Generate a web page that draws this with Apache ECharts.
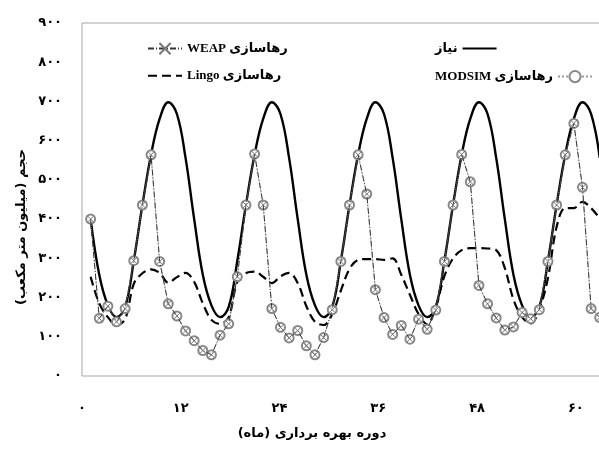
<!DOCTYPE html>
<html>
<head>
<meta charset="utf-8">
<script src="https://cdn.jsdelivr.net/npm/echarts@6/dist/echarts.min.js"></script>
<style>
html, body { margin: 0; padding: 0; background: #fff; }
#chart { width: 599px; height: 450px; }
</style>
</head>
<body>
<div id="chart"></div>
<script>
// Month index of each simulated step
const months = [
  1, 2, 3, 4, 5, 6, 7, 8, 9, 10, 11, 12,
  13, 14, 15, 16, 17, 18, 19, 20, 21, 22, 23, 24,
  25, 26, 27, 28, 29, 30, 31, 32, 33, 34, 35, 36,
  37, 38, 39, 40, 41, 42, 43, 44, 45, 46, 47, 48,
  49, 50, 51, 52, 53, 54, 55, 56, 57, 58, 59, 60
];

// Demand (million m3)
const demand = [
  400, 258, 180, 150, 176, 294, 436, 564, 656, 698, 668, 556,
  400, 258, 180, 150, 176, 294, 436, 564, 656, 698, 668, 556,
  400, 258, 180, 150, 176, 294, 436, 564, 656, 698, 668, 556,
  400, 258, 180, 150, 176, 294, 436, 564, 656, 698, 668, 556,
  400, 258, 180, 150, 176, 294, 436, 564, 656, 698, 668, 556
];

// Release computed with Lingo
const lingo = [
  253, 185, 150, 130, 145, 235, 262, 272, 263, 238, 252, 263,
  240, 185, 143, 133, 150, 240, 262, 266, 253, 237, 254, 263,
  237, 178, 138, 130, 158, 218, 273, 296, 298, 298, 296, 300,
  258, 207, 158, 132, 175, 255, 300, 321, 326, 326, 325, 321,
  275, 195, 150, 134, 170, 250, 380, 428, 428, 444, 428, 402
];

// Release simulated with WEAP
const weap = [
  400, 147, 178, 138, 172, 294, 436, 564, 292, 184, 153, 115,
  90, 65, 54, 104, 133, 253, 436, 566, 436, 172, 124, 97,
  116, 77, 54, 98, 169, 292, 436, 564, 464, 220, 149, 106,
  129, 94, 145, 119, 168, 292, 436, 565, 495, 231, 184, 148,
  117, 125, 162, 146, 169, 292, 436, 564, 644, 481, 172, 149
];

// Release simulated with MODSIM
const modsim = [
  400, 147, 178, 138, 172, 294, 436, 564, 292, 184, 153, 115,
  90, 65, 54, 104, 133, 253, 436, 566, 436, 172, 124, 97,
  116, 77, 54, 98, 169, 292, 436, 564, 464, 220, 149, 106,
  129, 94, 145, 119, 168, 292, 436, 565, 495, 231, 184, 148,
  117, 125, 162, 146, 169, 292, 436, 564, 644, 481, 172, 149
];

// Tick labels of the month axis
const monthTicks = [0, 12, 24, 36, 48, 60];

const FA_DIGITS = '۰۱۲۳۴۵۶۷۸۹';
const toFa = n => String(n).replace(/\d/g, d => FA_DIGITS[+d]);
const rtl = s => '\u202B' + s + '\u202C';
const pairs = vals => vals.map((v, i) => [months[i], v]);

const FONT = "'Liberation Serif', 'DejaVu Sans', serif";
const FA_FONT = "'DejaVu Sans', 'Noto Sans', sans-serif";

const NAME_WEAP = rtl('رهاسازی WEAP');
const NAME_LINGO = rtl('رهاسازی Lingo');
const NAME_DEMAND = 'نیاز';
const NAME_MODSIM = rtl('رهاسازی MODSIM');

const chart = echarts.init(document.getElementById('chart'), null, { renderer: 'canvas' });

const legendText = { fontFamily: FONT, fontWeight: 'bold', fontSize: 13, color: '#000' };
const legendBase = { orient: 'vertical', itemGap: 14, itemWidth: 34, itemHeight: 14, textStyle: legendText };
const noMarker = { opacity: 0 };

chart.setOption({
  animation: false,
  backgroundColor: '#fff',
  grid: {
    left: 82, top: 23, width: 535, bottom: 74,
    outerBoundsMode: 'none', containLabel: false,
    show: true, borderColor: '#a6a6a6', borderWidth: 1, backgroundColor: 'transparent'
  },
  legend: [
    Object.assign({}, legendBase, {
      left: 142, top: 37, align: 'left',
      data: [NAME_WEAP, { name: NAME_LINGO, itemStyle: noMarker }]
    }),
    Object.assign({}, legendBase, {
      left: 430, top: 37, align: 'right',
      data: [{ name: NAME_DEMAND, itemStyle: noMarker }]
    }),
    Object.assign({}, legendBase, {
      left: 430, top: 65, align: 'right',
      data: [NAME_MODSIM]
    })
  ],
  xAxis: [
    {
      // scale carrying the monthly series
      type: 'value', min: 0, max: 62, show: false
    },
    {
      // month labels under the plot
      type: 'value', min: 0, max: 65, interval: 12, position: 'bottom',
      axisLine: { show: false }, axisTick: { show: false }, splitLine: { show: false },
      axisLabel: {
        margin: 26, fontFamily: FA_FONT, fontWeight: 'bold', fontSize: 13, color: '#000',
        formatter: v => monthTicks.includes(v) ? toFa(v) : ''
      }
    }
  ],
  yAxis: {
    type: 'value', min: 0, max: 900, interval: 100,
    axisLine: { show: false }, axisTick: { show: false }, splitLine: { show: false },
    axisLabel: {
      margin: 20, fontFamily: FA_FONT, fontWeight: 'bold', fontSize: 13, color: '#000',
      formatter: v => toFa(v)
    }
  },
  graphic: [
    {
      type: 'text', x: 22, y: 227, rotation: Math.PI / 2,
      style: {
        text: rtl('حجم (میلیون متر مکعب)'), fill: '#000',
        font: "bold 13px " + FA_FONT,
        align: 'center', verticalAlign: 'middle', textAlign: 'center', textVerticalAlign: 'middle'
      }
    },
    {
      type: 'text', x: 312, y: 434,
      style: {
        text: rtl('دوره بهره برداری (ماه)'), fill: '#000',
        font: "bold 13px " + FA_FONT,
        align: 'center', verticalAlign: 'middle', textAlign: 'center', textVerticalAlign: 'middle'
      }
    }
  ],
  series: [
    {
      name: NAME_DEMAND, type: 'line', xAxisIndex: 0, color: '#000',
      data: pairs(demand), smooth: 0.4, symbol: 'none',
      lineStyle: { color: '#000', width: 2.4 }, z: 3
    },
    {
      name: NAME_LINGO, type: 'line', xAxisIndex: 0, color: '#000',
      data: pairs(lingo), smooth: 0.35, symbol: 'none',
      lineStyle: { color: '#000', width: 2.2, type: [9, 5] }, z: 3
    },
    {
      name: NAME_MODSIM, type: 'line', xAxisIndex: 0, color: '#888',
      data: pairs(modsim), symbol: 'emptyCircle', symbolSize: 9,
      itemStyle: { color: '#888', borderWidth: 1 },
      lineStyle: { color: '#999', width: 1, type: 'dotted' }, z: 4
    },
    {
      name: NAME_WEAP, type: 'line', xAxisIndex: 0, color: '#777',
      data: pairs(weap), symbol: 'path://M0,0L10,10M10,0L0,10', symbolSize: 7,
      itemStyle: { color: 'rgba(0,0,0,0)', borderColor: '#777', borderWidth: 1 },
      lineStyle: { color: '#333', width: 1, type: [6, 2, 1, 2] }, z: 5
    }
  ]
});
</script>
</body>
</html>
